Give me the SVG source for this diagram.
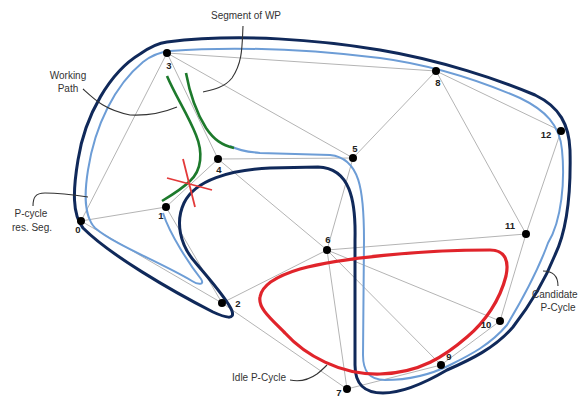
<svg xmlns="http://www.w3.org/2000/svg" width="581" height="396" viewBox="0 0 581 396">
<style>
.e{stroke:#b4b4b4;stroke-width:1;fill:none}
.n{fill:#000}
.nl{font-family:"Liberation Sans",Arial,sans-serif;font-size:9.5px;font-weight:bold;fill:#222}
.t{font-family:"Liberation Sans",Arial,sans-serif;font-size:10px;fill:#333}
.ld{stroke:#333;stroke-width:1.1;fill:none}
</style>
<rect width="581" height="396" fill="#fff"/>
<g id="connectors">
<line class="e" x1="167" y1="53" x2="436" y2="71"/>
<line class="e" x1="167" y1="53" x2="81" y2="221"/>
<line class="e" x1="167" y1="53" x2="218" y2="159"/>
<line class="e" x1="167" y1="53" x2="353" y2="158"/>
<line class="e" x1="436" y1="71" x2="353" y2="158"/>
<line class="e" x1="436" y1="71" x2="561" y2="131"/>
<line class="e" x1="436" y1="71" x2="526" y2="234"/>
<line class="e" x1="561" y1="131" x2="526" y2="234"/>
<line class="e" x1="526" y1="234" x2="500" y2="321"/>
<line class="e" x1="327" y1="250" x2="526" y2="234"/>
<line class="e" x1="218" y1="159" x2="353" y2="158"/>
<line class="e" x1="218" y1="159" x2="166" y2="207"/>
<line class="e" x1="218" y1="159" x2="327" y2="250"/>
<line class="e" x1="353" y1="158" x2="327" y2="250"/>
<line class="e" x1="166" y1="207" x2="81" y2="221"/>
<line class="e" x1="166" y1="207" x2="222" y2="303"/>
<line class="e" x1="81" y1="221" x2="222" y2="303"/>
<line class="e" x1="222" y1="303" x2="327" y2="250"/>
<line class="e" x1="222" y1="303" x2="347" y2="389"/>
<line class="e" x1="327" y1="250" x2="347" y2="389"/>
<line class="e" x1="327" y1="250" x2="441" y2="365"/>
<line class="e" x1="327" y1="250" x2="500" y2="321"/>
<line class="e" x1="347" y1="389" x2="441" y2="365"/>
<line class="e" x1="441" y1="365" x2="500" y2="321"/>
</g>
<g id="candidate-pcycle">
<path d="M167,42 C240,33 320,40 380,50 C440,60 500,80 535,95 C560,107 569,125 570,150 C571,190 567,230 555,255 C545,280 530,305 513,327 C495,348 470,360 447,370 C430,380 405,393 383,393 C365,393 355,385 355,365 L355,240 C356,200 350,168 318,167 L270,168 C230,170 195,180 184,203 C175,222 180,245 195,262 C210,280 228,300 232,311 C235,320 226,318 213,312 C170,290 110,255 83,228 C72,214 73,190 78,160 C85,115 110,72 140,54 C150,47 158,43 167,42 Z" fill="none" stroke="#10295a" stroke-width="3"/>
<path d="M163,213 C170,235 190,265 201,279 C205,285 198,285 192,281 C160,262 115,245 95,228 C84,216 84,195 88,170 C95,125 115,85 143,62 C152,55 160,52 170,51 C250,45 330,52 380,58 C440,66 490,85 520,98 C545,110 560,125 562,150 C565,180 562,220 548,243 C540,265 525,295 507,325 C490,345 470,355 450,365 C430,375 410,380 385,380 C368,380 363,370 363,355 L364,240 C364,190 360,158 330,155 L260,153 C248,152 238,150 230,146" fill="none" stroke="#6d9dd6" stroke-width="2"/>
</g>
<g id="working-path">
<path d="M167,76 C175,95 188,115 196,135 C203,152 202,170 190,181 C182,189 172,195 162,201" fill="none" stroke="#1d7a2c" stroke-width="2.6"/>
</g>
<g id="segment-of-wp">
<path d="M186,73 C190,95 196,112 206,128 C214,140 222,145 234,148" fill="none" stroke="#1d7a2c" stroke-width="2.6"/>
</g>
<g id="failure-x">
<line x1="167" y1="178" x2="212" y2="190" stroke="#e33a3a" stroke-width="1.8"/>
<line x1="183" y1="159" x2="195" y2="207" stroke="#e33a3a" stroke-width="1.8"/>
</g>
<g id="idle-pcycle">
<path d="M260,297 C262,284 280,275 300,269 C340,258 420,250 490,250 C506,250 509,262 506,276 C500,300 485,322 467,337 C445,356 420,373 380,374 C340,375 305,355 285,333 C270,318 258,308 260,297 Z" fill="none" stroke="#e0242b" stroke-width="3.2"/>
</g>
<g id="node-3"><circle class="n" cx="167" cy="53" r="4"/><text class="nl" x="169" y="69" text-anchor="middle">3</text></g>
<g id="node-8"><circle class="n" cx="436" cy="71" r="4"/><text class="nl" x="438" y="86" text-anchor="middle">8</text></g>
<g id="node-12"><circle class="n" cx="561" cy="131" r="4"/><text class="nl" x="546" y="138" text-anchor="middle">12</text></g>
<g id="node-5"><circle class="n" cx="353" cy="158" r="4"/><text class="nl" x="355" y="152" text-anchor="middle">5</text></g>
<g id="node-4"><circle class="n" cx="218" cy="159" r="4"/><text class="nl" x="219" y="173" text-anchor="middle">4</text></g>
<g id="node-1"><circle class="n" cx="166" cy="207" r="4"/><text class="nl" x="161" y="219" text-anchor="middle">1</text></g>
<g id="node-0"><circle class="n" cx="81" cy="221" r="4"/><text class="nl" x="78" y="233" text-anchor="middle">0</text></g>
<g id="node-6"><circle class="n" cx="327" cy="250" r="4"/><text class="nl" x="328" y="243" text-anchor="middle">6</text></g>
<g id="node-11"><circle class="n" cx="526" cy="234" r="4"/><text class="nl" x="510" y="229" text-anchor="middle">11</text></g>
<g id="node-2"><circle class="n" cx="222" cy="303" r="4"/><text class="nl" x="238" y="307" text-anchor="middle">2</text></g>
<g id="node-10"><circle class="n" cx="500" cy="321" r="4"/><text class="nl" x="486" y="328" text-anchor="middle">10</text></g>
<g id="node-9"><circle class="n" cx="441" cy="365" r="4"/><text class="nl" x="449" y="360" text-anchor="middle">9</text></g>
<g id="node-7"><circle class="n" cx="347" cy="389" r="4"/><text class="nl" x="339" y="395.5" text-anchor="middle">7</text></g>
<g id="label-segment"><text class="t" x="246" y="19" text-anchor="middle">Segment of WP</text><path class="ld" d="M243,26 C242,45 243,62 232,78 C224,88 212,90 203,92"/></g>
<g id="label-working"><text class="t" x="68" y="79" text-anchor="middle">Working</text><text class="t" x="68" y="92" text-anchor="middle">Path</text><path class="ld" d="M83,89 C95,100 105,110 130,115 C150,116 165,112 177,107"/></g>
<g id="label-pcycle-res"><text class="t" x="31" y="217" text-anchor="middle">P-cycle</text><text class="t" x="32" y="231" text-anchor="middle">res. Seg.</text><path class="ld" d="M33,206 C33,198 35,193 45,193 C60,193 75,195 88,197"/></g>
<g id="label-candidate"><text class="t" x="532" y="298">Candidate</text><text class="t" x="558" y="311" text-anchor="middle">P-Cycle</text><path class="ld" d="M543,271 C552,271 558,275 558,286"/></g>
<g id="label-idle"><text class="t" x="259" y="381" text-anchor="middle">Idle P-Cycle</text><path class="ld" d="M290,380 C300,382 310,379 317,374 C321,371 324,368 327,365"/></g>
</svg>
